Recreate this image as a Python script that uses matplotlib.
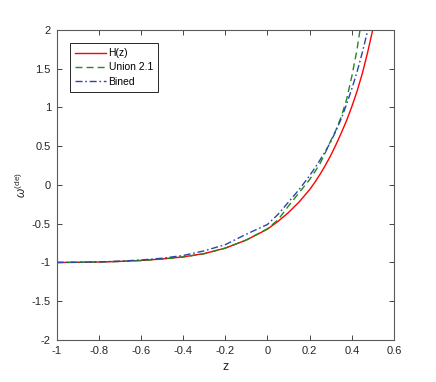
import matplotlib
matplotlib.use("Agg")
import matplotlib.pyplot as plt

plt.rcParams["font.family"] = ["Liberation Sans", "DejaVu Sans"]
plt.rcParams["mathtext.fontset"] = "custom"
plt.rcParams["mathtext.rm"] = "Liberation Sans"
plt.rcParams["mathtext.it"] = "Liberation Sans:italic"

# redshift grid and the three reconstructed w_de(z) curves
z = [-1.0, -0.9, -0.8, -0.7, -0.6, -0.5, -0.4, -0.3, -0.2, -0.1,
     0.0, 0.05, 0.1, 0.15, 0.2, 0.225, 0.25, 0.275, 0.3, 0.325,
     0.35, 0.375, 0.4, 0.425, 0.45, 0.475, 0.5]
w_hz = [-1.0, -0.998, -0.994, -0.986, -0.974, -0.955, -0.928, -0.885, -0.815, -0.71,
        -0.57, -0.47, -0.355, -0.22, -0.06, 0.035, 0.14, 0.255, 0.38, 0.52,
        0.67, 0.83, 1.01, 1.21, 1.44, 1.71, 2.01]
w_union = [-1.0, -0.998, -0.994, -0.987, -0.975, -0.956, -0.93, -0.888, -0.815, -0.71,
           -0.565, -0.45, -0.27, -0.10, 0.07, 0.17, 0.28, 0.42, 0.57, 0.71,
           0.88, 1.1, 1.4, 1.75, 2.2, 2.7, 3.2]
w_bined = [-1.0, -0.997, -0.992, -0.983, -0.968, -0.945, -0.91, -0.85, -0.77, -0.635,
           -0.51, -0.38, -0.22, -0.06, 0.12, 0.22, 0.325, 0.435, 0.555, 0.70,
           0.855, 1.04, 1.24, 1.46, 1.71, 1.99, 2.28]

fig = plt.figure(figsize=(4.36, 3.82), dpi=100)
ax = fig.add_axes([0.1296, 0.110, 0.774, 0.8115])

ax.plot(z, w_hz, color="#ff0000", lw=1.0, label="H(z)")
ax.plot(z, w_union, color="#1e8c1e", lw=1.0, ls=(0, (5, 3)), label="Union 2.1")
ax.plot(z, w_bined, color="#2a46a8", lw=1.0, ls=(0, (5, 2, 1.2, 2)), label="Bined")

ax.set_xlim(-1, 0.6)
ax.set_ylim(-2, 2)
ax.set_xticks([-1, -0.8, -0.6, -0.4, -0.2, 0, 0.2, 0.4, 0.6])
ax.set_xticklabels(["-1", "-0.8", "-0.6", "-0.4", "-0.2", "0", "0.2", "0.4", "0.6"])
ax.set_yticks([-2, -1.5, -1, -0.5, 0, 0.5, 1, 1.5, 2])
ax.set_yticklabels(["-2", "-1.5", "-1", "-0.5", "0", "0.5", "1", "1.5", "2"])
ax.tick_params(direction="in", top=True, right=True, length=3.5, width=0.6,
               labelsize=8, colors="#262626", pad=4)
for s in ax.spines.values():
    s.set_color("#5a5a5a")
    s.set_linewidth(0.8)

ax.set_xlabel("z", fontsize=9, color="#262626", labelpad=4)
ax.set_ylabel(r"$\omega^{\rm (de)}$", fontsize=8.5, color="#262626", labelpad=2)

leg = ax.legend(loc="upper left", bbox_to_anchor=(0.04, 0.958), borderaxespad=0,
                fontsize=7.5, handlelength=3.0, handletextpad=0.2,
                labelspacing=0.4, borderpad=0.5, fancybox=False, framealpha=1)
leg.get_frame().set_edgecolor("#262626")
leg.get_frame().set_linewidth(0.7)

fig.savefig("out.png", dpi=100)
